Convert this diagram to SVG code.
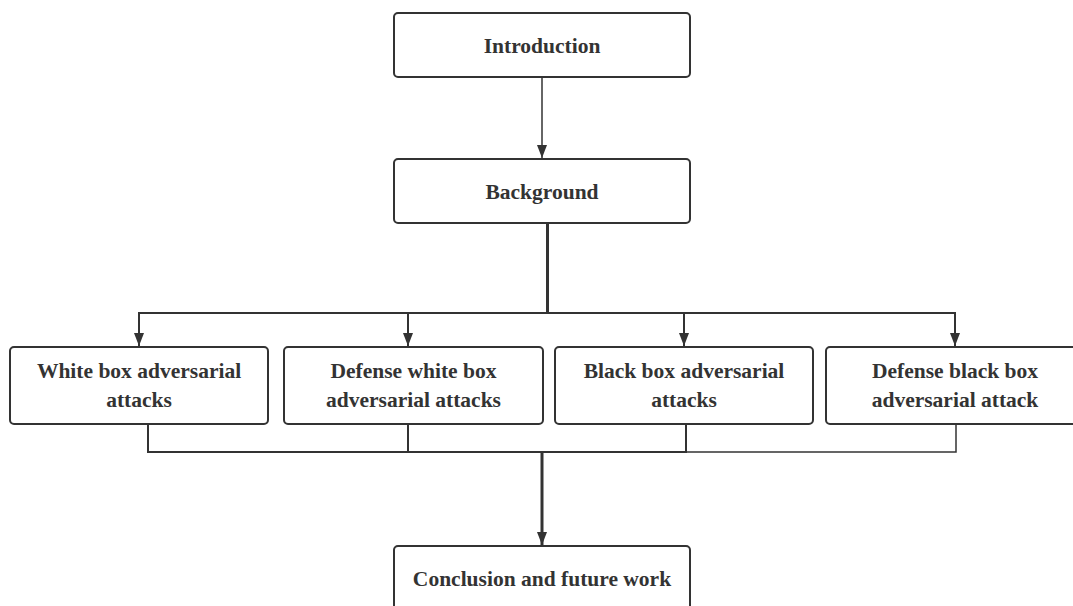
<svg xmlns="http://www.w3.org/2000/svg" width="1073" height="606" viewBox="0 0 1073 606">
  <style>
    .box { fill: #ffffff; stroke: #333333; stroke-width: 2; }
    .label { font-family: 'Liberation Serif', 'DejaVu Serif', serif; font-weight: 700; font-size: 21.5px; fill: #333333; text-anchor: middle; }
    .wire { fill: none; stroke: #333333; stroke-width: 2; }
    .thin { stroke-width: 1.5; }
    .thick { stroke-width: 3; }
  </style>
  <defs>
    <!-- arrowhead drawn along +x so orient="auto" points it along the line -->
    <marker id="arrow" viewBox="0 0 13 10" refX="13" refY="5" markerWidth="13" markerHeight="10" markerUnits="userSpaceOnUse" orient="auto">
      <path d="M0,0 L13,5 L0,10 Z" fill="#333333"/>
    </marker>
  </defs>
  <rect width="1073" height="606" fill="#ffffff"/>

  <g id="connectors">
    <!-- Introduction to Background -->
    <line class="wire thin" x1="542" y1="77" x2="542" y2="158" marker-end="url(#arrow)"/>
    <!-- Background fan-out -->
    <line class="wire thick" x1="547.5" y1="223" x2="547.5" y2="313"/>
    <line class="wire" x1="139" y1="313" x2="955" y2="313"/>
    <line class="wire" x1="139" y1="312" x2="139" y2="346" marker-end="url(#arrow)"/>
    <line class="wire" x1="408" y1="313" x2="408" y2="346" marker-end="url(#arrow)"/>
    <line class="wire" x1="684" y1="313" x2="684" y2="346" marker-end="url(#arrow)"/>
    <line class="wire" x1="955" y1="312" x2="955" y2="346" marker-end="url(#arrow)"/>
    <!-- Merge into conclusion -->
    <polyline class="wire" points="148,424 148,452 686,452 686,424"/>
    <line class="wire" x1="408" y1="424" x2="408" y2="452"/>
    <polyline class="wire thin" points="686,452 956,452 956,424"/>
    <line class="wire thick" x1="542" y1="452" x2="542" y2="545" marker-end="url(#arrow)"/>
  </g>

  <g id="introduction">
    <rect class="box" x="394" y="13" width="296" height="64" rx="4"/>
    <text class="label" x="542" y="53">Introduction</text>
  </g>
  <g id="background">
    <rect class="box" x="394" y="159" width="296" height="64" rx="4"/>
    <text class="label" x="542" y="199">Background</text>
  </g>
  <g id="white-box-attacks">
    <rect class="box" x="10" y="347" width="258" height="77" rx="4"/>
    <text class="label" x="139" y="378">White box adversarial</text>
    <text class="label" x="139" y="407">attacks</text>
  </g>
  <g id="defense-white-box">
    <rect class="box" x="284" y="347" width="259" height="77" rx="4"/>
    <text class="label" x="413.5" y="378">Defense white box</text>
    <text class="label" x="413.5" y="407">adversarial attacks</text>
  </g>
  <g id="black-box-attacks">
    <rect class="box" x="555" y="347" width="258" height="77" rx="4"/>
    <text class="label" x="684" y="378">Black box adversarial</text>
    <text class="label" x="684" y="407">attacks</text>
  </g>
  <g id="defense-black-box">
    <rect class="box" x="826" y="347" width="258" height="77" rx="4"/>
    <text class="label" x="955" y="378">Defense black box</text>
    <text class="label" x="955" y="407">adversarial attack</text>
  </g>
  <g id="conclusion">
    <rect class="box" x="394" y="546" width="296" height="70" rx="4"/>
    <text class="label" x="542" y="586">Conclusion and future work</text>
  </g>
</svg>
